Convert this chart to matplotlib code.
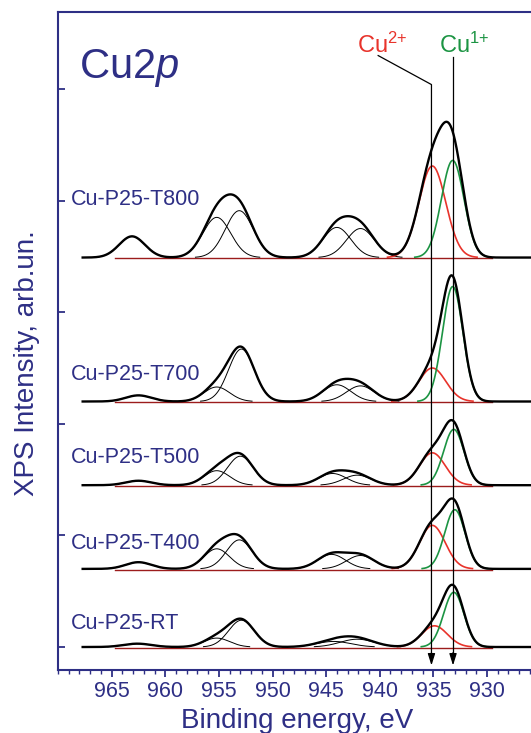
import numpy as np
import matplotlib
matplotlib.use('Agg')
import matplotlib.pyplot as plt
from matplotlib.ticker import MultipleLocator

plt.rcParams['font.family'] = ['Liberation Sans', 'DejaVu Sans']
plt.rcParams['mathtext.fontset'] = 'custom'
plt.rcParams['mathtext.rm'] = 'Liberation Sans'
plt.rcParams['mathtext.it'] = 'Liberation Sans:italic'

# samples, top to bottom, and their vertical stacking offsets
samples = ['Cu-P25-T800', 'Cu-P25-T700', 'Cu-P25-T500', 'Cu-P25-T400', 'Cu-P25-RT']
offsets = [3.49, 2.20, 1.45, 0.70, 0.0]

# Cu2p3/2 components (centre eV, height, width)
cu2_pos = [935.1, 935.1, 935.1, 935.1, 934.9]
cu2_amp = [0.82, 0.30, 0.29, 0.39, 0.19]
cu2_wid = [1.25, 1.25, 1.2, 1.2, 1.2]
cu1_pos = [933.2, 933.2, 933.1, 933.0, 933.1]
cu1_amp = [0.87, 1.03, 0.50, 0.53, 0.49]
cu1_wid = [1.05, 0.95, 0.95, 0.95, 0.95]

# Cu2p1/2 pair
p12a_pos = [955.2, 955.2, 955.2, 955.2, 955.2]
p12a_amp = [0.36, 0.13, 0.13, 0.18, 0.08]
p12b_pos = [953.1, 952.9, 953.0, 953.1, 952.9]
p12b_amp = [0.42, 0.47, 0.26, 0.26, 0.24]
p12_wid = [1.3, 1.2, 1.2, 1.2, 1.2]

# shake-up satellites
sata_pos = [944.0, 944.0, 944.4, 944.5, 944.3]
sata_amp = [0.27, 0.15, 0.105, 0.13, 0.05]
satb_pos = [941.8, 941.8, 942.1, 941.8, 942.1]
satb_amp = [0.26, 0.14, 0.09, 0.12, 0.07]
sat_wid = [1.3, 1.3, 1.3, 1.3, 1.6]
sath_pos = [963.1, 962.5, 962.5, 962.5, 962.6]
sath_amp = [0.19, 0.055, 0.04, 0.06, 0.03]
sath_wid = [1.2, 1.2, 1.2, 1.2, 1.3]

label_dy = [0.47, 0.19, 0.20, 0.18, 0.16]
marker_pos = [935.18, 933.17]
xtick_vals = [965, 960, 955, 950, 945, 940, 935, 930]

navy = '#2e2f85'
red = '#e8332b'
green = '#1c9443'
basered = '#9c1c1c'


def gauss(e, c, a, s):
    return a * np.exp(-(e - c) ** 2 / (2 * s ** 2))


def clipped(y):
    return np.where(y > 0.003, y, np.nan)


fig = plt.figure(figsize=(5.31, 7.33), dpi=100)
ax = fig.add_axes([58 / 531, 1 - 670 / 733, (531 - 58) / 531, (670 - 11.7) / 733])
ax.set_xlim(970, 925.9)
ax.set_ylim(-0.206, 5.693)

E = np.linspace(967.7, 920, 3000)

for i in range(len(samples)):
    off = offsets[i]
    thin = [gauss(E, p12a_pos[i], p12a_amp[i], p12_wid[i]),
            gauss(E, p12b_pos[i], p12b_amp[i], p12_wid[i]),
            gauss(E, sata_pos[i], sata_amp[i], sat_wid[i]),
            gauss(E, satb_pos[i], satb_amp[i], sat_wid[i]),
            gauss(E, sath_pos[i], sath_amp[i], sath_wid[i])]
    r = gauss(E, cu2_pos[i], cu2_amp[i], cu2_wid[i])
    g = gauss(E, cu1_pos[i], cu1_amp[i], cu1_wid[i])
    env = r + g + sum(thin)

    ax.plot([964.7, 929.5], [off - 0.008, off - 0.008], color=basered, lw=1.0, zorder=2)
    for t in thin:
        ax.plot(E, off + clipped(t), color='black', lw=0.7, zorder=3)
    ax.plot(E, off + clipped(r), color=red, lw=1.2, zorder=3)
    ax.plot(E, off + clipped(g), color=green, lw=1.2, zorder=3)
    ax.plot(E, off + env, color='black', lw=1.7, zorder=4)

    ax.text(968.8, off + label_dy[i], samples[i], color=navy, fontsize=15.5,
            ha='left', va='baseline')

# marker lines with arrows
ax.plot([940.15, marker_pos[0], marker_pos[0]], [5.30, 5.04, -0.10],
        color='black', lw=0.9, zorder=5)
ax.plot([marker_pos[1], marker_pos[1]], [5.29, -0.10], color='black', lw=0.9, zorder=5)
for xp in marker_pos:
    ax.annotate('', xy=(xp, -0.165), xytext=(xp, -0.05),
                arrowprops=dict(arrowstyle='-|>,head_length=0.7,head_width=0.22',
                                color='black', lw=0.9, shrinkA=0, shrinkB=0))

ax.text(942.14, 5.32, 'Cu$^{2{+}}$', color=red, fontsize=17, ha='left', va='baseline')
ax.text(934.5, 5.32, 'Cu$^{1{+}}$', color=green, fontsize=17, ha='left', va='baseline')
ax.text(968.0, 5.10, 'Cu2$p$', color=navy, fontsize=30, ha='left', va='baseline')

# axes styling
ax.spines['right'].set_visible(False)
for s in ['left', 'top', 'bottom']:
    ax.spines[s].set_color(navy)
    ax.spines[s].set_linewidth(1.5)

ax.set_xticks(xtick_vals)
ax.xaxis.set_minor_locator(MultipleLocator(1))
ax.tick_params(axis='x', which='major', direction='out', length=5, width=1.3,
               color=navy, labelcolor=navy, labelsize=15.5, pad=3)
ax.tick_params(axis='x', which='minor', direction='out', length=3, width=1.0, color=navy)
ax.set_yticks([0, 1, 2, 3, 4, 5])
ax.tick_params(axis='y', which='major', direction='in', length=5, width=1.3,
               color=navy, labelleft=False)

fig.text(297 / 531, 1 - 728 / 733, 'Binding energy, eV', color=navy, fontsize=20,
         ha='center', va='baseline')
fig.text(27 / 531, 1 - 363 / 733, 'XPS Intensity, arb.un.', color=navy, fontsize=20,
         ha='center', va='center', rotation=90)

fig.savefig('out.png', dpi=100)
